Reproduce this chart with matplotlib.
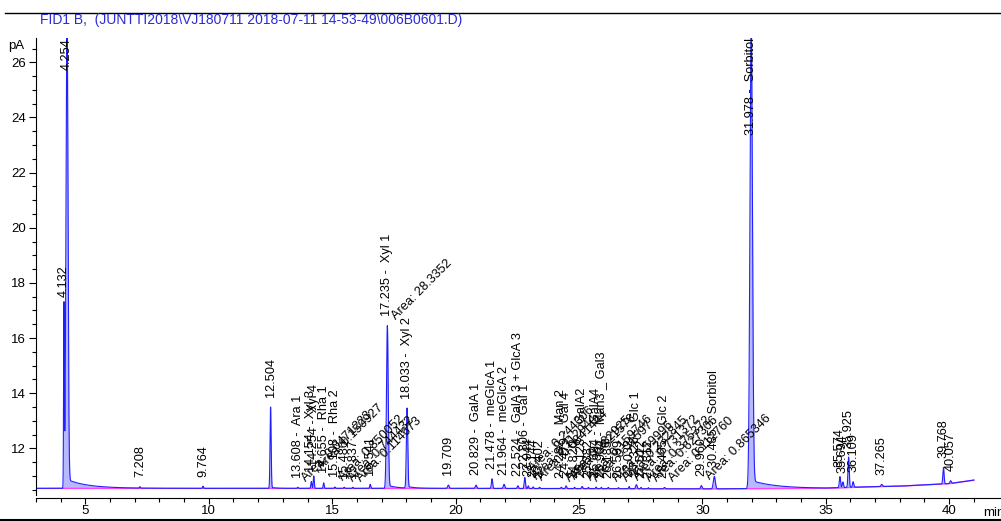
import numpy as np
import matplotlib.pyplot as plt
from matplotlib.lines import Line2D

plt.rcParams['font.family'] = ['Liberation Sans', 'DejaVu Sans']

title = "FID1 B,  (JUNTTI2018\\VJ180711 2018-07-11 14-53-49\\006B0601.D)"

# integrated peaks: retention time (min), height above baseline (pA), width (min), name
peak_rt = [4.132, 4.254, 7.208, 9.764, 12.504, 13.608, 14.154, 14.254, 14.655,
           15.108, 15.486, 15.837, 16.541, 17.235, 18.033, 19.709, 20.829,
           21.478, 21.964, 22.524, 22.806, 22.944, 23.144, 23.402, 24.282,
           24.479, 24.820, 25.128, 25.382, 25.694, 25.904, 26.185, 26.599,
           27.032, 27.326, 27.512, 27.812, 28.465, 29.960, 30.485, 31.978,
           35.574, 35.694, 35.925, 36.109, 37.265, 39.768, 40.057]
peak_height = [6.6, 17.5, 0.05, 0.08, 2.95, 0.04, 0.25, 0.45, 0.2,
               0.05, 0.04, 0.04, 0.15, 5.9, 2.9, 0.12, 0.12,
               0.35, 0.15, 0.1, 0.4, 0.1, 0.06, 0.05, 0.05,
               0.1, 0.05, 0.08, 0.05, 0.06, 0.05, 0.05, 0.04,
               0.08, 0.15, 0.05, 0.04, 0.05, 0.12, 0.45, 17.0,
               0.4, 0.2, 1.1, 0.2, 0.08, 0.6, 0.1]
peak_sigma = [0.015, 0.04, 0.02, 0.02, 0.022, 0.02, 0.02, 0.02, 0.02,
              0.02, 0.02, 0.02, 0.02, 0.035, 0.028, 0.03, 0.03,
              0.025, 0.03, 0.025, 0.025, 0.02, 0.02, 0.02, 0.025,
              0.025, 0.02, 0.025, 0.02, 0.02, 0.02, 0.02, 0.02,
              0.02, 0.03, 0.02, 0.02, 0.03, 0.03, 0.04, 0.05,
              0.025, 0.025, 0.025, 0.025, 0.03, 0.025, 0.03]
peak_name = ["", "", "", "", "", "Ara 1", "Xyl 3", "Xyl 4", "Rha 1",
             "Rha 2", "", "", "", "Xyl 1", "Xyl 2", "", "GalA 1",
             "meGlcA 1", "meGlcA 2", "GalA 3 + GlcA 3", "Gal 1", "", "", "", "Man 2",
             "Gal 4", "", "GalA2", "", "GalA4", "Man3 _ Gal3", "", "",
             "", "Glc 1", "", "", "Glc 2", "", "Sorbitol", "Sorbitol",
             "", "", "", "", "", "", ""]

# manually integrated peaks carry an area annotation
area_rt = [13.608, 14.254, 15.108, 15.486, 15.837, 17.235, 22.806, 22.944,
           23.144, 24.282, 24.479, 25.128, 25.382, 26.185, 26.599, 27.032,
           27.512, 27.812, 28.465, 29.960]
area_text = ["Area: 0.0471223", "Area: 0.150927", "Area: 0.850052",
             "Area: 0.744432", "Area: 0.114673", "Area: 28.3352",
             "Area: 0.244306", "Area: 0.112944", "Area: 0.0841444",
             "Area: 0.282925", "Area: 0.821578", "Area: 0.159746",
             "Area: 0.31597", "Area: 0.59996", "Area: 0.232845",
             "Area: 0.731372", "Area: 0.375372", "Area: 0.627306",
             "Area: 0.112760", "Area: 0.865346"]

# tailing of the large peaks
tail_rt = [4.254, 4.132, 12.504, 17.235, 18.033, 31.978]
tail_amp = [0.30, 0.05, 0.04, 0.12, 0.06, 0.30]
tail_tau = [0.9, 0.3, 0.2, 0.35, 0.3, 1.0]

# detector baseline drift
base_rt = [3.0, 10.0, 20.0, 30.0, 35.0, 36.5, 38.0, 40.0, 41.0]
base_pa = [10.55, 10.55, 10.55, 10.53, 10.55, 10.60, 10.63, 10.72, 10.85]

t = np.linspace(3.0, 41.0, 20000)
base = np.interp(t, base_rt, base_pa)
sig = base.copy()
for rt, h, s in zip(peak_rt, peak_height, peak_sigma):
    sig += h * np.exp(-0.5 * ((t - rt) / s) ** 2)
for rt, a, tau in zip(tail_rt, tail_amp, tail_tau):
    dt = np.clip(t - rt, 0, None)
    sig += a * np.exp(-dt / tau) * (1 - np.exp(-dt / 0.04)) * (t > rt)

fig = plt.figure(figsize=(10.01, 5.21), dpi=100)
ax = fig.add_axes([0.036, 0.0441, 0.964, 0.8829])
ymin, ymax = 10.2, 26.88
ax.set_xlim(3, 42.1)
ax.set_ylim(ymin, ymax)

ax.fill_between(t, base, sig, color='#b8b8ff', lw=0)
ax.plot(t, base, color='#ff40ff', lw=1.0)
ax.plot(t, sig, color='#2020ff', lw=0.8)

for rt, h, name in zip(peak_rt, peak_height, peak_name):
    apex = np.interp(rt, base_rt, base_pa) + h
    label = f"{rt:.3f}" + (f" -  {name}" if name else "")
    if apex > ymax:
        ax.text(rt, ymax, label, rotation=90, ha='center', va='top', fontsize=9.2)
    else:
        ax.text(rt, apex + 0.35, label, rotation=90, ha='center', va='bottom',
                fontsize=9.2)

for rt, txt in zip(area_rt, area_text):
    h = peak_height[peak_rt.index(rt)]
    apex = np.interp(rt, base_rt, base_pa) + h
    ax.text(rt + 0.35, apex + 0.2, txt, rotation=45, rotation_mode='anchor',
            ha='left', va='baseline', fontsize=9.2)

for side in ['top', 'right']:
    ax.spines[side].set_visible(False)
ax.spines['left'].set_bounds(10.3, ymax)
ax.spines['left'].set_linewidth(0.8)
ax.spines['bottom'].set_linewidth(0.8)

ax.set_yticks(np.arange(12, 27, 2))
ax.set_yticks(np.arange(10.5, 26.6, 0.5), minor=True)
ax.set_xticks(np.arange(5, 41, 5))
ax.set_xticks(np.arange(3, 42, 1), minor=True)
ax.tick_params(axis='y', which='major', length=5, width=0.8, labelsize=9.5, pad=2)
ax.tick_params(axis='y', which='minor', length=3, width=0.8)
ax.tick_params(axis='x', which='major', length=4, width=0.8, labelsize=9.5, pad=1)
ax.tick_params(axis='x', which='minor', length=3, width=0.8)

fig.text(0.040, 0.962, title, color='#2b2bd6', fontsize=10, va='center', ha='left')
fig.text(0.008, 0.912, "pA", fontsize=9.5, va='center', ha='left')
fig.text(0.982, 0.016, "min", fontsize=9.5, va='center', ha='left')
fig.add_artist(Line2D([0.005, 1.0], [0.975, 0.975], color='black', lw=1.0))
fig.add_artist(Line2D([0.0, 1.0], [0.002, 0.002], color='black', lw=1.5))

fig.savefig('out.png', dpi=100)
